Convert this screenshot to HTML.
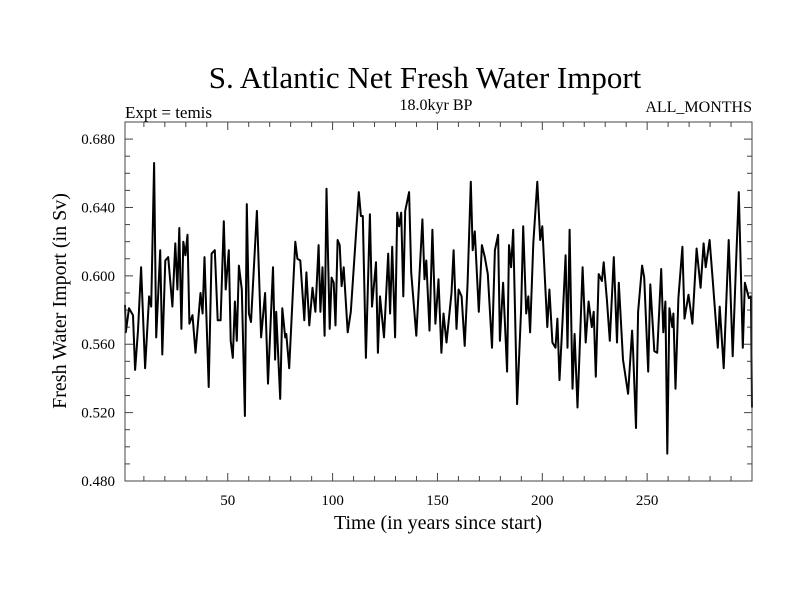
<!DOCTYPE html>
<html><head><meta charset="utf-8"><style>
body{margin:0;background:#fff}
svg text{font-family:"Liberation Serif",serif;fill:#000}
</style></head><body>
<svg id="chart" width="800" height="600" xmlns="http://www.w3.org/2000/svg">
<rect width="800" height="600" fill="#fff"/>
<text x="425" y="88" font-size="31" text-anchor="middle">S. Atlantic Net Fresh Water Import</text>
<text x="125" y="118" font-size="17">Expt = temis</text>
<text x="436" y="110" font-size="16" text-anchor="middle">18.0kyr BP</text>
<text x="752" y="112" font-size="16" text-anchor="end">ALL_MONTHS</text>
<text transform="translate(66,301) rotate(-90)" font-size="20" text-anchor="middle">Fresh Water Import (in Sv)</text>
<text x="438" y="529" font-size="20" text-anchor="middle">Time (in years since start)</text>
<g id="ticks"></g>
<path id="series" fill="none" stroke="#000" stroke-width="2" stroke-linejoin="round"/>
<rect x="125" y="122" width="627" height="359" fill="none" stroke="#444" stroke-width="1"/>
</svg>
<script>
const years=[1,1.4,2.9,4.8,5.8,7.2,8.7,10.6,12.5,13.5,14.9,15.9,17.8,18.8,20.2,21.6,23.6,25,26,26.9,27.9,28.8,29.8,30.8,31.7,33.2,34.6,37,38,38.9,40.9,42.3,43.8,45.2,46.6,48.1,49,50.5,51.4,52.4,53.4,54.3,55.3,56.7,58.2,59.1,60.1,61.1,63.9,65.9,67.8,69.2,
71.6,72.6,73.1,75,76,77.4,77.9,79.3,82.2,83.2,84.6,86.5,87.5,88.9,90.4,91.8,93.3,94.2,95.2,96.2,97.1,98.6,99.5,100.5,101.4,102.4,103.4,104.3,105.3,107.2,108.7,112.5,113.5,114.4,115.9,117.8,118.8,120.7,121.6,122.6,124.5,126.5,127.4,128.4,129.8,130.8,131.7,132.7,133.7,134.6,136.5,137.5,139.9,142.8,143.8,144.7,
146.2,147.6,149,150.5,151.9,152.9,154.3,156.7,157.7,159.1,160.1,161.5,163,164.4,165.9,166.8,167.8,169.7,171.2,172.6,174,176,177.4,178.9,179.8,181.3,183.2,184.1,185.1,186.1,188,189.9,190.9,192.3,193.3,194.2,195.7,197.6,199,200,202.4,203.4,204.8,206.3,207.2,208.2,209.6,211.1,212,213,214.4,215.4,216.8,217.8,219.2,
220.7,222.1,223.6,224.5,225.5,226.9,228.4,229.3,230.8,232.2,234.1,235.6,236.5,238.5,240.9,242.8,243.3,244.7,245.7,247.6,248.6,250.5,251.5,253.4,254.8,256.7,257.7,258.7,259.6,260.6,262,262.5,263.5,264.9,266.8,267.8,269.7,271.6,273.6,275.5,276.9,277.9,279.8,281.3,283.7,284.6,286.5,288.9,290.8,292.3,293.7,295.6,296.6,298.5,299.5,300];
const values=[0.583,0.567,0.581,0.577,0.545,0.568,0.605,0.546,0.588,0.582,0.666,0.564,0.615,0.554,0.609,0.611,0.582,0.619,0.592,0.628,0.569,0.620,0.612,0.624,0.572,0.577,0.555,0.590,0.578,0.611,0.535,0.613,0.615,0.574,0.574,0.632,0.592,0.615,0.562,0.552,0.585,0.562,0.606,0.592,0.518,0.642,0.578,0.573,0.638,0.564,0.590,0.537,
0.605,0.551,0.579,0.528,0.581,0.564,0.566,0.546,0.620,0.610,0.609,0.574,0.602,0.571,0.593,0.579,0.618,0.579,0.605,0.565,0.651,0.569,0.599,0.596,0.571,0.621,0.618,0.594,0.605,0.567,0.579,0.649,0.635,0.635,0.552,0.636,0.582,0.608,0.555,0.588,0.564,0.613,0.578,0.617,0.564,0.637,0.629,0.637,0.588,0.638,0.649,0.602,0.565,0.633,0.598,0.609,
0.568,0.627,0.572,0.598,0.555,0.578,0.561,0.590,0.615,0.569,0.592,0.588,0.559,0.596,0.655,0.615,0.626,0.579,0.618,0.611,0.601,0.558,0.615,0.624,0.562,0.596,0.544,0.618,0.605,0.627,0.525,0.580,0.629,0.578,0.588,0.567,0.619,0.655,0.621,0.629,0.570,0.592,0.561,0.558,0.575,0.539,0.572,0.612,0.558,0.627,0.534,0.566,0.523,0.556,0.605,
0.561,0.585,0.570,0.579,0.541,0.601,0.597,0.608,0.586,0.562,0.611,0.561,0.596,0.551,0.531,0.568,0.556,0.511,0.579,0.606,0.599,0.544,0.595,0.556,0.555,0.604,0.567,0.585,0.496,0.581,0.570,0.578,0.534,0.587,0.617,0.575,0.589,0.572,0.616,0.593,0.619,0.605,0.621,0.597,0.558,0.582,0.546,0.621,0.553,0.605,0.649,0.558,0.596,0.587,0.588,0.523];
const yTickLabels=["0.480","0.520","0.560","0.600","0.640","0.680"];
const xTickLabels=["50","100","150","200","250"];
const X0=125,X1=752,Y0=481,Y1=122,XMIN=1,XMAX=300,YMIN=0.480,YMAX=0.690;
const sx=v=>X0+(v-XMIN)/(XMAX-XMIN)*(X1-X0);
const sy=v=>Y0-(v-YMIN)/(YMAX-YMIN)*(Y0-Y1);
const NS="http://www.w3.org/2000/svg";
const g=document.getElementById('ticks');
function line(x1,y1,x2,y2){const l=document.createElementNS(NS,'line');l.setAttribute('x1',x1);l.setAttribute('y1',y1);l.setAttribute('x2',x2);l.setAttribute('y2',y2);l.setAttribute('stroke','#444');l.setAttribute('stroke-width','1');


g.appendChild(l);}
for(let v=0.48;v<=0.6901;v+=0.01){const y=sy(v);const major=Math.abs(Math.round(v*1000)%40)<1;const L=major?8:5;line(X0,y,X0+L,y);line(X1,y,X1-L,y);}
for(let v=10;v<=300;v+=10){const x=sx(v);const L=v%50===0?8:5;line(x,Y0,x,Y0-L);line(x,Y1,x,Y1+L);}
yTickLabels.forEach(s=>{const t=document.createElementNS(NS,'text');t.setAttribute('x',X0-10);t.setAttribute('y',sy(parseFloat(s))+5);t.setAttribute('font-size','15');t.setAttribute('text-anchor','end');t.textContent=s;


g.appendChild(t);});
xTickLabels.forEach(s=>{const t=document.createElementNS(NS,'text');t.setAttribute('x',sx(parseFloat(s)));t.setAttribute('y',Y0+24);t.setAttribute('font-size','15');t.setAttribute('text-anchor','middle');t.textContent=s;


g.appendChild(t);});
let d='';years.forEach((yr,i)=>{d+=(i?'L':'M')+sx(yr).toFixed(1)+','+sy(values[i]).toFixed(1);});
document.getElementById('series').setAttribute('d',d);
</script>
</body></html>
